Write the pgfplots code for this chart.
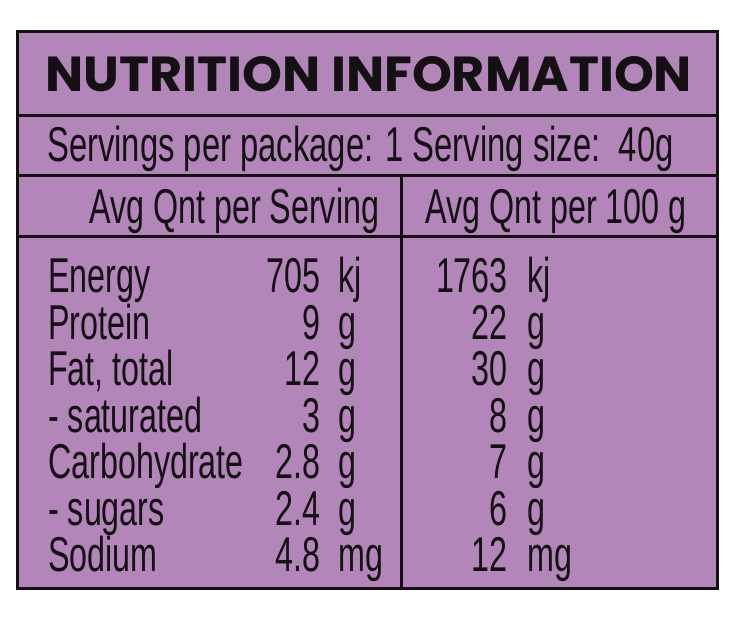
\documentclass[border=0pt]{standalone}
\usepackage{fontspec}
\usepackage{graphicx}
\usepackage{pgfplots}
\usepackage{pgfplotstable}
\pgfplotsset{compat=1.18}
\setmainfont{Liberation Sans}
\newfontfamily\condfont{Liberation Sans}[FakeStretch=0.66]
\newfontfamily\titlefont{Poppins}
\newcommand\bodyfont{\condfont\fontsize{48.9bp}{50bp}\selectfont}
\definecolor{labelpurple}{RGB}{179,134,185}
\definecolor{edge}{RGB}{20,16,20}

% rows: baseline y (pixels from top), name, per serving, per 100 g
\pgfplotstableread[col sep=semicolon]{
y;name;v1;u1;v2;u2
292.7;Energy;705;kj;1763;kj
339.2;Protein;9;g;22;g
385.7;Fat, total;12;g;30;g
432.2;- saturated;3;g;8;g
478.7;Carbohydrate;2.8;g;7;g
525.2;- sugars;2.4;g;6;g
571.7;Sodium;4.8;mg;12;mg
}\nutri

\begin{document}
\begin{tikzpicture}
\begin{axis}[
  width=738bp, height=620bp, scale only axis,
  xmin=0, xmax=738, ymin=0, ymax=620,
  y dir=reverse,
  hide axis, clip=false,
  nodes near coords,
  point meta=explicit symbolic,
  nodes near coords style={inner sep=0pt, font=\bodyfont, text=edge},
]
\fill[white] (axis cs:0,0) rectangle (axis cs:738,620);
\fill[labelpurple] (axis cs:17.5,31.5) rectangle (axis cs:717.5,588.5);
\draw[edge, line width=3.2bp] (axis cs:17.5,31.5) rectangle (axis cs:717.5,588.5);
\draw[edge, line width=3bp] (axis cs:17.5,116) -- (axis cs:717.5,116);
\draw[edge, line width=3bp] (axis cs:17.5,176) -- (axis cs:717.5,176);
\draw[edge, line width=3bp] (axis cs:17.5,237) -- (axis cs:717.5,237);
\draw[edge, line width=3bp] (axis cs:401,176) -- (axis cs:401,588.5);

\node[anchor=base west, inner sep=0pt, text=edge] at (axis cs:45,91.7)
  {\resizebox{646.7bp}{35bp}{\titlefont\bfseries NUTRITION INFORMATION}};
\node[anchor=base west, inner sep=0pt, text=edge, font=\bodyfont] at (axis cs:47,161.7)
  {\scalebox{1.016}[1]{Servings per package: 1 Serving size:\ \ 40g}};
\node[anchor=base west, inner sep=0pt, text=edge, font=\bodyfont] at (axis cs:89,223.5)
  {Avg Qnt per Serving};
\node[anchor=base west, inner sep=0pt, text=edge, font=\bodyfont] at (axis cs:425,223.5)
  {Avg Qnt per 100 g};

\addplot[draw=none, nodes near coords style={anchor=base west}]
  table[x expr=48, y=y, meta=name] {\nutri};
\addplot[draw=none, nodes near coords style={anchor=base east}]
  table[x expr=320.5, y=y, meta=v1] {\nutri};
\addplot[draw=none, nodes near coords style={anchor=base west}]
  table[x expr=338, y=y, meta=u1] {\nutri};
\addplot[draw=none, nodes near coords style={anchor=base east}]
  table[x expr=508, y=y, meta=v2] {\nutri};
\addplot[draw=none, nodes near coords style={anchor=base west}]
  table[x expr=527, y=y, meta=u2] {\nutri};
\end{axis}
\end{tikzpicture}
\end{document}
